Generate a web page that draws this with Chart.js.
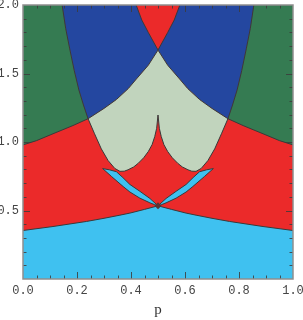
<!DOCTYPE html>
<html>
<head>
<meta charset="utf-8">
<script src="https://cdn.jsdelivr.net/npm/chart.js@4.4.1/dist/chart.umd.min.js"></script>
<style>
  html, body { margin: 0; padding: 0; background: #fff; }
  #wrap { width: 303px; height: 320px; }
</style>
</head>
<body>
<div id="wrap"><canvas id="c"></canvas></div>
<script>
// --- boundary curves (left half; right half is the mirror p -> 1-p) ---
// A: red/green, light-green/blue, blue/top-red border, rising from p=0 to the top
const curveA_p = [0, 0.05, 0.111, 0.185, 0.241, 0.3, 0.346, 0.39, 0.42, 0.464, 0.5, 0.536, 0.56, 0.581];
const curveA_y = [0.979, 1.01, 1.06, 1.12, 1.17, 1.245, 1.31, 1.39, 1.46, 1.56, 1.671, 1.80, 1.89, 2.0];
// C: green/blue border, then the light-green lower edge down to its cusp at p=0.5
const curveC_p = [0.145, 0.158, 0.173, 0.19, 0.207, 0.224, 0.241, 0.265, 0.29, 0.315, 0.34, 0.359, 0.375, 0.389, 0.41, 0.427, 0.447, 0.464, 0.478, 0.488, 0.495, 0.5];
const curveC_y = [2.0, 1.83, 1.68, 1.52, 1.38, 1.27, 1.17, 1.06, 0.95, 0.865, 0.807, 0.786, 0.787, 0.797, 0.818, 0.845, 0.885, 0.93, 0.98, 1.04, 1.10, 1.197];
// E: light-blue / red border at the bottom
const curveE_p = [0, 0.111, 0.235, 0.3, 0.359, 0.396, 0.45, 0.5];
const curveE_y = [0.354, 0.383, 0.42, 0.443, 0.466, 0.481, 0.508, 0.534];
// thin light-blue wedge: upper and lower edges
const wedgeUp_p = [0.295, 0.32, 0.346, 0.37, 0.396, 0.433, 0.47, 0.5];
const wedgeUp_y = [0.806, 0.797, 0.783, 0.74, 0.69, 0.64, 0.588, 0.534];
const wedgeLo_p = [0.295, 0.328, 0.371, 0.396, 0.433, 0.47, 0.488, 0.5];
const wedgeLo_y = [0.806, 0.748, 0.675, 0.635, 0.59, 0.556, 0.542, 0.534];
// point where everything meets
const nodeP = [0.5];
const nodeY = [0.534];

const xTickValues = [0, 0.2, 0.4, 0.6, 0.8, 1.0];
const xTickLabels = ['0.0', '0.2', '0.4', '0.6', '0.8', '1.0'];
const yTickValues = [0.5, 1.0, 1.5, 2.0];
const yTickLabels = ['0.5', '1.0', '1.5', '2.0'];

const COL = {
  red: '#eb2a2a', green: '#357b52', blue: '#2447a0',
  pale: '#c1d4bd', cyan: '#3fc1f0', edge: '#3a3a3a'
};

// --- helpers ---
const pts = (ps, ys) => ps.map((p, i) => ({ x: p, y: ys[i] }));
const mirror = arr => arr.map(o => ({ x: +(1 - o.x).toFixed(4), y: o.y })).reverse();
const between = (arr, lo, hi) => arr.filter(o => o.x >= lo - 1e-9 && o.x <= hi + 1e-9);

const A = pts(curveA_p, curveA_y);
const C = pts(curveC_p, curveC_y);
const E = pts(curveE_p, curveE_y);
const WU = pts(wedgeUp_p, wedgeUp_y);
const WL = pts(wedgeLo_p, wedgeLo_y);
const pJ = 0.241; // where A and C cross

const greenUp = [{ x: 0, y: 2 }, ...between(C, 0, pJ)];
const greenLo = between(A, 0, pJ);
const blueUp = [C[0], ...mirror(between(A, 0.5, 1))];
const blueLo = [...between(C, 0, pJ), ...between(A, pJ, 0.5).slice(1)];
const paleUp = [...between(A, pJ, 0.5), ...mirror(between(A, pJ, 0.5)).slice(1)];
const paleLo = [...between(C, pJ, 0.5), ...mirror(between(C, pJ, 0.5)).slice(1)];
const Efull = [...E, ...mirror(E).slice(1)];

const datasets = [];
function add(d) {
  datasets.push(Object.assign({
    type: 'line', borderWidth: 0, pointRadius: 0, pointHoverRadius: 0,
    tension: 0, fill: false
  }, d));
  datasets[datasets.length - 1].order = -(datasets.length - 1);
  return datasets.length - 1;
}
function region(up, lo, color) {
  const t = add({ data: lo });
  add({ data: up, fill: t, backgroundColor: color });
}

add({ data: [{ x: 0, y: 2 }, { x: 1, y: 2 }], fill: 'start', backgroundColor: COL.red });
add({ data: Efull, fill: 'start', backgroundColor: COL.cyan });
region(greenUp, greenLo, COL.green);
region(mirror(greenUp), mirror(greenLo), COL.green);
region(blueUp, blueLo, COL.blue);
region(mirror(blueUp), mirror(blueLo), COL.blue);
region(paleUp, paleLo, COL.pale);
region(WU, WL, COL.cyan);
region(mirror(WU), mirror(WL), COL.cyan);

[A, mirror(A), C, mirror(C), Efull, WU, WL, mirror(WU), mirror(WL)].forEach(d =>
  add({ data: d, borderWidth: 1, borderColor: COL.edge }));
add({
  data: pts(nodeP, nodeY), showLine: false, pointStyle: 'rectRot',
  pointRadius: 3.5, backgroundColor: '#5b3434', borderWidth: 0
});

// frame + inward ticks on all four sides
const frameTicks = {
  id: 'frameTicks',
  afterDatasetsDraw(chart) {
    const { ctx, chartArea: a, scales: { x, y } } = chart;
    ctx.save();
    ctx.strokeStyle = 'rgba(60,60,60,0.85)';
    ctx.lineWidth = 1;
    ctx.beginPath();
    for (let i = 1; i < 20; i++) {
      const px = Math.round(x.getPixelForValue(i * 0.05)) + 0.5;
      const len = i % 4 === 0 ? 7 : 3.5;
      ctx.moveTo(px, a.bottom); ctx.lineTo(px, a.bottom - len);
      ctx.moveTo(px, a.top); ctx.lineTo(px, a.top + len);
    }
    for (let i = 1; i < 20; i++) {
      const py = Math.round(y.getPixelForValue(i * 0.1)) + 0.5;
      const len = i % 5 === 0 ? 7 : 3.5;
      ctx.moveTo(a.left, py); ctx.lineTo(a.left + len, py);
      ctx.moveTo(a.right, py); ctx.lineTo(a.right - len, py);
    }
    ctx.stroke();
    ctx.strokeStyle = '#8e8e8e';
    ctx.lineWidth = 1.5;
    ctx.strokeRect(a.left, a.top, a.right - a.left, a.bottom - a.top);
    ctx.restore();
  }
};

const tickFont = { family: '"Liberation Mono", monospace', size: 12 };

new Chart(document.getElementById('c'), {
  type: 'line',
  data: { datasets },
  plugins: [frameTicks],
  options: {
    responsive: true,
    maintainAspectRatio: false,
    animation: false,
    events: [],
    layout: { padding: { left: 0, top: 5, right: 10, bottom: 0 } },
    plugins: { legend: { display: false }, tooltip: { enabled: false } },
    scales: {
      x: {
        type: 'linear', min: 0, max: 1,
        grid: { display: false, drawTicks: false },
        border: { display: false },
        afterBuildTicks: s => { s.ticks = xTickValues.map(v => ({ value: v })); },
        afterFit: s => { s.height = 41; s.paddingLeft = 0; s.paddingRight = 0; },
        ticks: {
          padding: 5, color: '#444', font: tickFont, maxRotation: 0,
          callback: (v, i) => xTickLabels[i]
        },
        title: {
          display: true, text: 'p', color: '#333',
          font: { family: '"Liberation Serif", serif', size: 15 },
          padding: { top: 0, bottom: 1 }
        }
      },
      y: {
        type: 'linear', min: 0, max: 2,
        grid: { display: false, drawTicks: false },
        border: { display: false },
        afterBuildTicks: s => { s.ticks = yTickValues.map(v => ({ value: v })); },
        afterFit: s => { s.width = 23; s.paddingTop = 0; s.paddingBottom = 0; },
        ticks: {
          padding: 4, color: '#444', font: tickFont,
          callback: (v, i) => yTickLabels[i]
        }
      }
    }
  }
});
</script>
</body>
</html>
